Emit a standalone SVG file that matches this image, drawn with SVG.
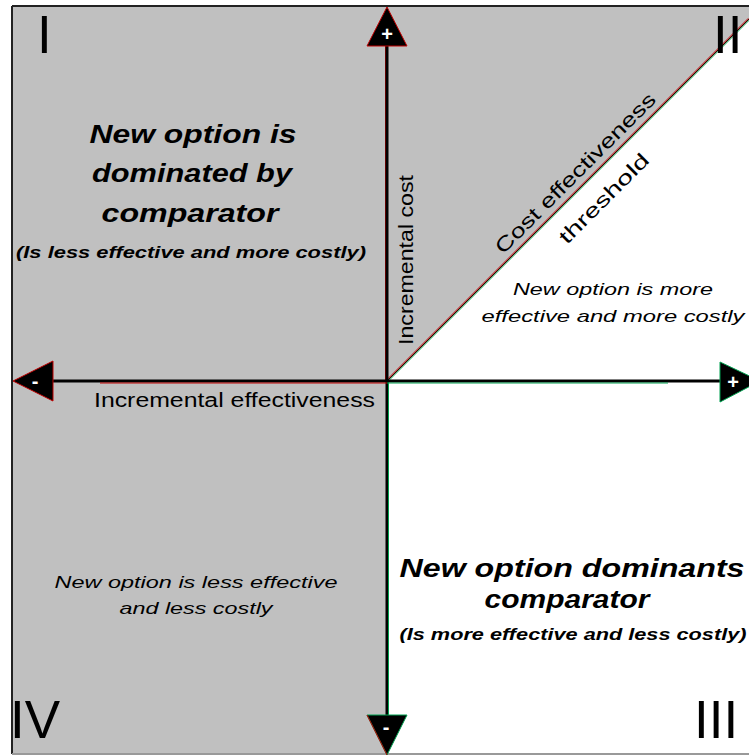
<svg xmlns="http://www.w3.org/2000/svg" width="749" height="756" viewBox="0 0 749 756">
<style>
.num{font-family:"Liberation Sans",Arial,sans-serif;font-size:53px;fill:#000}
.head{font-family:"Liberation Sans",Arial,sans-serif;font-size:25px;font-weight:bold;font-style:italic;fill:#000;text-anchor:middle}
.sub{font-family:"Liberation Sans",Arial,sans-serif;font-size:17px;font-weight:bold;font-style:italic;fill:#000;text-anchor:middle}
.note{font-family:"Liberation Sans",Arial,sans-serif;font-size:17px;font-style:italic;fill:#000;text-anchor:middle}
.axl{font-family:"Liberation Sans",Arial,sans-serif;font-size:20px;fill:#000}
.sign{font-family:"Liberation Sans",Arial,sans-serif;font-size:20px;font-weight:bold;fill:#fff;text-anchor:middle}
</style>
<rect x="0" y="0" width="749" height="756" fill="#fff"/>
<g id="background">
<rect x="12" y="6" width="375" height="748" fill="#c0c0c0"/>
<polygon points="387,6 749,6 749,19 387,381" fill="#c0c0c0"/>
<line x1="12" y1="6" x2="749" y2="6" stroke="#222" stroke-width="2"/>
<line x1="12" y1="6" x2="12" y2="754" stroke="#222" stroke-width="2"/>
<line x1="12" y1="754" x2="749" y2="754" stroke="#999" stroke-width="2"/>
</g>
<g id="connectors">
<line x1="387" y1="381" x2="749" y2="19" stroke="#c00000" stroke-width="1" transform="translate(-0.7,-0.7)"/>
<line x1="387" y1="381" x2="749" y2="19" stroke="#009040" stroke-width="1" transform="translate(0.7,0.7)"/>
<line x1="387" y1="381" x2="749" y2="19" stroke="#300" stroke-width="1"/>
<line x1="385.5" y1="46" x2="385.5" y2="381" stroke="#c00000" stroke-width="1"/>
<line x1="387" y1="46" x2="387" y2="716" stroke="#000" stroke-width="3"/>
<line x1="388.5" y1="381" x2="388.5" y2="716" stroke="#00a050" stroke-width="1"/>
<line x1="53" y1="381" x2="720" y2="381" stroke="#000" stroke-width="3"/>
<line x1="100" y1="383" x2="387" y2="383" stroke="#c00000" stroke-width="1"/>
<line x1="387" y1="383" x2="668" y2="383" stroke="#00a050" stroke-width="1"/>
<polygon points="387,7 407,46 367,46" fill="#000" stroke="#c00000" stroke-width="1"/>
<polygon points="13,381 53,361 53,401" fill="#000" stroke="#c00000" stroke-width="1"/>
<polygon points="720,362 760,381 720,402" fill="#000" stroke="#00a050" stroke-width="1"/>
<polygon points="367,715 407,715 387,755" fill="#000" stroke="#00a050" stroke-width="1"/>
<polyline points="367,715 387,755" fill="none" stroke="#c00000" stroke-width="1"/>
</g>
<g id="signs">
<text class="sign" x="387" y="41">+</text>
<text class="sign" x="733" y="389">+</text>
<text class="sign" x="35" y="388">-</text>
<text class="sign" x="386" y="734">-</text>
</g>
<g id="quadrant-I">
<text class="num" x="37" y="53">I</text>
<text class="head" x="193" y="143" textLength="207" lengthAdjust="spacingAndGlyphs">New option is</text>
<text class="head" x="192" y="182" textLength="200" lengthAdjust="spacingAndGlyphs">dominated by</text>
<text class="head" x="190" y="222" textLength="177" lengthAdjust="spacingAndGlyphs">comparator</text>
<text class="sub" x="191" y="258" textLength="350" lengthAdjust="spacingAndGlyphs">(Is less effective and more costly)</text>
</g>
<g id="quadrant-II">
<text class="num" x="713" y="53">II</text>
<text class="note" x="613" y="295" textLength="200" lengthAdjust="spacingAndGlyphs">New option is more</text>
<text class="note" x="613" y="322" textLength="263" lengthAdjust="spacingAndGlyphs">effective and more costly</text>
</g>
<g id="quadrant-III">
<text class="num" x="694" y="738">III</text>
<text class="head" x="572" y="577" textLength="345" lengthAdjust="spacingAndGlyphs">New option dominants</text>
<text class="head" x="567" y="608" textLength="165" lengthAdjust="spacingAndGlyphs">comparator</text>
<text class="sub" x="573" y="640" textLength="347" lengthAdjust="spacingAndGlyphs">(Is more effective and less costly)</text>
</g>
<g id="quadrant-IV">
<text class="num" x="10" y="738">IV</text>
<text class="note" x="196" y="588" textLength="283" lengthAdjust="spacingAndGlyphs">New option is less effective</text>
<text class="note" x="196" y="614" textLength="153" lengthAdjust="spacingAndGlyphs">and less costly</text>
</g>
<g id="axis-labels">
<text class="axl" x="94" y="407" textLength="281" lengthAdjust="spacingAndGlyphs">Incremental effectiveness</text>
<text class="axl" transform="translate(413,345) rotate(-90)" textLength="170" lengthAdjust="spacingAndGlyphs">Incremental cost</text>
<text class="axl" transform="translate(503,255) rotate(-45)" textLength="218" lengthAdjust="spacingAndGlyphs">Cost effectiveness</text>
<text class="axl" transform="translate(567,245) rotate(-45)" textLength="118" lengthAdjust="spacingAndGlyphs">threshold</text>
</g>
</svg>
